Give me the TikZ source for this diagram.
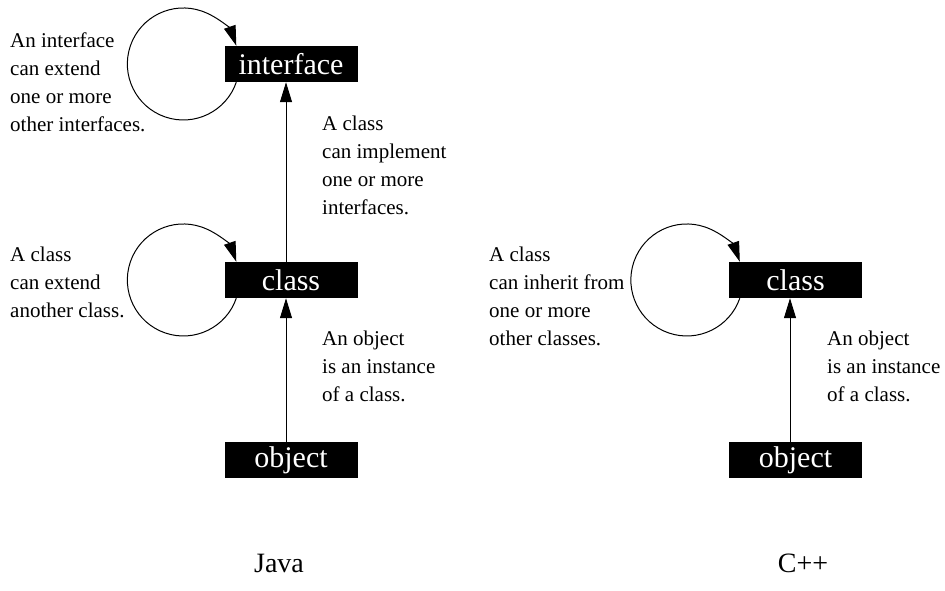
\documentclass[tikz,border=0pt]{standalone}
\usepackage{fontspec}
\setmainfont{Liberation Serif}
\usetikzlibrary{arrows.meta,backgrounds}
\begin{document}
\begin{tikzpicture}[x=1pt,y=1pt,
  box/.style={fill=black,text=white,minimum width=133pt,minimum height=36pt,
    inner sep=0pt,font=\fontsize{30}{30}\selectfont},
  note/.style={anchor=north west,align=left,inner sep=0pt,
    font=\fontsize{21}{28}\selectfont},
  arr/.style={line width=1pt,-{Triangle[length=20pt 0 0,width=12pt 0 0]}},
  lang/.style={anchor=base,inner sep=0pt,font=\fontsize{28}{28}\selectfont}]
\useasboundingbox (0,0) rectangle (945,-590);

% Java column
\node[box] (jint) at (291,-64)  {interface};
\node[box] (jcls) at (291,-280) {class};
\node[box] (jobj) at (291,-460) {object};

% C++ column
\node[box] (ccls) at (795.5,-280) {class};
\node[box] (cobj) at (795.5,-460) {object};

% self loops, behind the boxes
\begin{pgfonlayer}{background}
\draw[arr] ([xshift=12pt]jint.south west) arc[start angle=-19,end angle=-341,radius=56pt];
\draw[arr] ([xshift=12pt]jcls.south west) arc[start angle=-19,end angle=-341,radius=56pt];
\draw[arr] ([xshift=11pt]ccls.south west) arc[start angle=-19,end angle=-341,radius=56pt];
\end{pgfonlayer}

% vertical relations
\draw[arr] ([xshift=-5pt]jobj.north) -- ([xshift=-5pt]jcls.south);
\draw[arr] ([xshift=-5pt]jcls.north) -- ([xshift=-5pt]jint.south);
\draw[arr] ([xshift=-5.5pt]cobj.north) -- ([xshift=-5.5pt]ccls.south);

% annotations
\node[note] (n1) at (10,-33)   {An interface\\can extend\\one or more\\other interfaces.};
\node[note] (n2) at (322,-116) {A class\\can implement\\one or more\\interfaces.};
\node[note] (n3) at (10,-247)  {A class\\can extend\\another class.};
\node[note] (n4) at (322,-331) {An object\\is an instance\\of a class.};
\node[note] (n5) at (489,-247) {A class\\can inherit from\\one or more\\other classes.};
\node[note] (n6) at (827,-331) {An object\\is an instance\\of a class.};

% language captions
\node[lang] (java) at (279,-572) {Java};
\node[lang] (cpp)  at (803,-572) {C++};
\end{tikzpicture}
\end{document}
